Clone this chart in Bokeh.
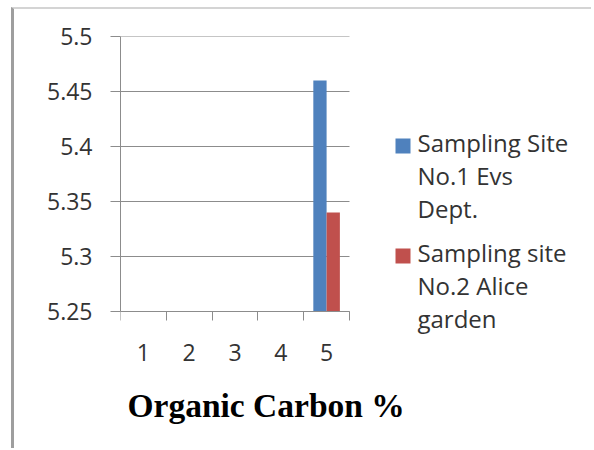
from bokeh.plotting import figure
from bokeh.models import FixedTicker, ColumnDataSource, Range1d
from bokeh.core.properties import value
from bokeh.transform import dodge
from bokeh.embed import file_html
from bokeh.resources import INLINE
import math

# ---- data ----
categories = [1, 2, 3, 4, 5]
category_labels = ["1", "2", "3", "4", "5"]
site1 = [math.nan, math.nan, math.nan, math.nan, 5.46]
site2 = [math.nan, math.nan, math.nan, math.nan, 5.34]
series_names = ["Sampling Site\nNo.1 Evs\nDept.", "Sampling site\nNo.2 Alice\ngarden"]
y_ticks = [5.25, 5.30, 5.35, 5.40, 5.45, 5.50]
y_tick_labels = ["5.25", "5.3", "5.35", "5.4", "5.45", "5.5"]
x_title = "Organic Carbon %"

BLUE = "#4F81BD"
RED = "#C0504D"
series_colors = [BLUE, RED]
GRID = "#8c8c8c"
TEXT = "#333333"
TICK_FONT = "Open Sans"

# ---- layout geometry (pixels) ----
CW, CH = 580, 441          # canvas
ML, MT = 106, 27           # frame offset inside canvas
FW, FH = CW - ML, CH - MT  # frame spans to right/bottom edges
PW, PH = 229, 275          # plotting area (axes) size inside the frame

y_lo, y_hi = y_ticks[0], y_ticks[-1]
x_lo, x_hi = categories[0] - 0.5, categories[-1] + 0.5
x_end = x_lo + (x_hi - x_lo) * FW / PW
y_start = y_hi - (y_hi - y_lo) * FH / PH

src = ColumnDataSource(dict(x=categories, s1=site1, s2=site2))

p = figure(width=CW, height=CH, output_backend="svg", toolbar_location=None,
           x_range=Range1d(x_lo, x_end), y_range=Range1d(y_start, y_hi),
           min_border_left=ML, min_border_right=0,
           min_border_top=MT, min_border_bottom=0)
p.extra_x_ranges = {"px": Range1d(0, FW)}
p.extra_y_ranges = {"px": Range1d(FH, 0)}
p.styles = {"border-left": "3px solid #9e9e9e", "border-top": "2px solid #d4d4d4",
            "margin-left": "11px", "margin-top": "7px"}
p.outline_line_color = None
p.background_fill_color = "white"
p.border_fill_color = "white"
p.xgrid.visible = False
p.ygrid.visible = False

# horizontal grid lines limited to the plotting area
n = len(y_ticks)
p.segment(x0=[x_lo] * n, x1=[x_hi] * n, y0=y_ticks, y1=y_ticks,
          line_color=GRID, line_width=1)

p.vbar(x=dodge("x", -0.145, range=p.x_range), top="s1", bottom=y_lo, width=0.29,
       source=src, fill_color=BLUE, line_color=None)
p.vbar(x=dodge("x", 0.145, range=p.x_range), top="s2", bottom=y_lo, width=0.29,
       source=src, fill_color=RED, line_color=None)

# x axis, pinned at the bottom of the value range
xa = p.xaxis[0]
xa.fixed_location = y_lo
xa.bounds = (x_lo, x_hi)
xa.ticker = FixedTicker(ticks=categories,
                        minor_ticks=[c - 0.5 for c in categories] + [categories[-1] + 0.5])
xa.major_label_overrides = {c: l for c, l in zip(categories, category_labels)}
xa.major_tick_out = 0
xa.major_tick_in = 0
xa.minor_tick_out = 9
xa.minor_tick_in = 0
xa.minor_tick_line_color = GRID
xa.axis_line_color = GRID
xa.major_label_standoff = 23
xa.major_label_text_font = TICK_FONT
xa.major_label_text_font_size = "23px"
xa.major_label_text_color = TEXT

# y axis
ya = p.yaxis[0]
ya.bounds = (y_lo, y_hi)
ya.ticker = FixedTicker(ticks=y_ticks, minor_ticks=[])
ya.major_label_overrides = {t: l for t, l in zip(y_ticks, y_tick_labels)}
ya.major_tick_out = 10
ya.major_tick_in = 0
ya.major_tick_line_color = GRID
ya.axis_line_color = GRID
ya.major_label_standoff = 18
ya.major_label_text_font = TICK_FONT
ya.major_label_text_font_size = "23px"
ya.major_label_text_color = TEXT

# axis title
p.text(x=[7], y=[369], text=[x_title], x_range_name="px", y_range_name="px",
       text_font=value("Liberation Serif"), text_font_style=value("bold"),
       text_font_size=value("33.5px"), text_color="black",
       text_baseline="alphabetic", text_align="left")

# legend (pixel coordinates inside the frame, y downward)
sq, sq_x, sq_top, item_step, line_step = 15, 275, 102, 110, 33
txt_x, first_base = 297, 106
p.rect(x=[sq_x + sq / 2] * len(series_names),
       y=[sq_top + sq / 2 + i * item_step for i in range(len(series_names))],
       width=sq, height=sq, x_range_name="px", y_range_name="px",
       fill_color=series_colors, line_color=None)
lx, ly, lt = [], [], []
for i, name in enumerate(series_names):
    for j, line in enumerate(name.split("\n")):
        lx.append(txt_x)
        ly.append(first_base + i * item_step + j * line_step)
        lt.append(line)
p.text(x=lx, y=ly, text=lt, x_range_name="px", y_range_name="px",
       text_font=value(TICK_FONT), text_font_size=value("24px"), text_color=TEXT,
       text_baseline="alphabetic", text_align="left")

open("out.html", "w").write(file_html(p, INLINE))
